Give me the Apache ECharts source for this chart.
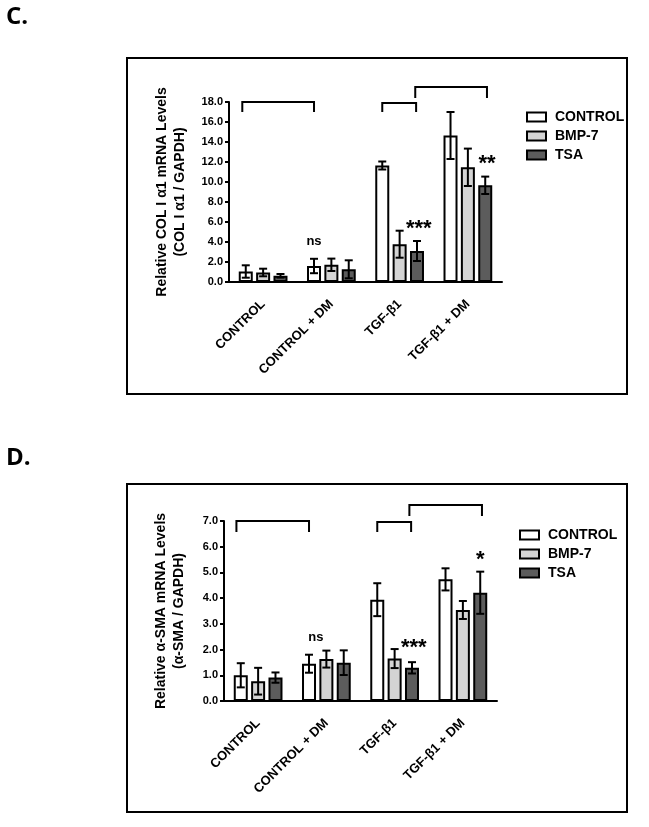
<!DOCTYPE html>
<html>
<head>
<meta charset="utf-8">
<script src="https://cdn.jsdelivr.net/npm/echarts@6/dist/echarts.min.js"></script>
<style>
  html, body { margin: 0; padding: 0; background: #fff; }
  #chart { width: 649px; height: 827px; }
</style>
</head>
<body>
<div id="chart"></div>
<script>
// x groups and legend names
const categories = ['CONTROL', 'CONTROL + DM', 'TGF-\u03b21', 'TGF-\u03b21 + DM'];
const seriesNames = ['CONTROL', 'BMP-7', 'TSA'];
const seriesColors = ['#ffffff', '#d4d4d4', '#5c5c5c'];

// panel C - COL I a1 mRNA, mean and error
const colControl = [1.05, 1.6, 11.65, 14.65];
const colControlErr = [0.62, 0.72, 0.4, 2.35];
const colBmp = [0.95, 1.72, 3.78, 11.47];
const colBmpErr = [0.38, 0.62, 1.35, 1.87];
const colTsa = [0.62, 1.27, 3.1, 9.67];
const colTsaErr = [0.18, 0.9, 1.0, 0.87];
const colTicks = [0, 2, 4, 6, 8, 10, 12, 14, 16, 18];

// panel D - a-SMA mRNA, mean and error
const smaControl = [1.0, 1.45, 3.94, 4.73];
const smaControlErr = [0.47, 0.35, 0.64, 0.43];
const smaBmp = [0.77, 1.63, 1.65, 3.54];
const smaBmpErr = [0.52, 0.33, 0.37, 0.35];
const smaTsa = [0.91, 1.49, 1.29, 4.21];
const smaTsaErr = [0.2, 0.48, 0.22, 0.82];
const smaTicks = [0, 1, 2, 3, 4, 5, 6, 7];

// brackets: [fromGroup, fromBarSlot, toGroup, toBarSlot, topValue, legEndValue]
const colBrackets = [[0, -0.2, 1, 0, 18.0, 17.0], [2, 0, 2, 1.95, 17.9, 17.0], [2, 1.9, 3, 2.1, 19.5, 18.4]];
const smaBrackets = [[0, -0.25, 1, 0, 7.0, 6.57], [2, 0, 2, 1.95, 6.96, 6.57], [2, 1.85, 3, 2.1, 7.62, 7.19]];

// significance marks: [group, barSlot, value]
const colSig = [[1, 0, 4.1], [2, 2.1, 5.3], [3, 2.1, 11.8]];
const colSigText = ['ns', '***', '**'];
const smaSig = [[1, 0.4, 2.49], [2, 2.1, 2.06], [3, 2.0, 5.5]];
const smaSigText = ['ns', '***', '*'];

const FONT = '"Liberation Sans", Arial, sans-serif';
const BAR_W = 14;
const BAR_GAP = 0.24;
const STEP = BAR_W * (1 + BAR_GAP);

function slotX(api, group, slot) {
  return api.coord([group, 0])[0] + (slot - 1) * STEP;
}

function buildPanel(idx, means, errs, brackets, sig, sigText) {
  const out = [];
  means.forEach((m, s) => {
    out.push({
      name: seriesNames[s],
      type: 'bar',
      xAxisIndex: idx,
      yAxisIndex: idx,
      barWidth: BAR_W,
      barGap: (BAR_GAP * 100) + '%',
      itemStyle: { color: seriesColors[s], borderColor: '#000', borderWidth: 2 },
      data: m,
      z: 2
    });
  });

  // error bars
  const errData = [];
  means.forEach((m, s) => {
    m.forEach((v, i) => errData.push([i, s, v - errs[s][i], v + errs[s][i]]));
  });
  out.push({
    type: 'custom',
    xAxisIndex: idx,
    yAxisIndex: idx,
    z: 5,
    silent: true,
    data: errData,
    renderItem: (params, api) => {
      const x = slotX(api, api.value(0), api.value(1));
      const lo = api.coord([api.value(0), api.value(2)])[1];
      const hi = api.coord([api.value(0), api.value(3)])[1];
      const st = { stroke: '#000', lineWidth: 2 };
      return {
        type: 'group',
        children: [
          { type: 'line', shape: { x1: x, y1: lo, x2: x, y2: hi }, style: st },
          { type: 'line', shape: { x1: x - 4, y1: hi, x2: x + 4, y2: hi }, style: st },
          { type: 'line', shape: { x1: x - 4, y1: lo, x2: x + 4, y2: lo }, style: st }
        ]
      };
    }
  });

  // comparison brackets
  out.push({
    type: 'custom',
    xAxisIndex: idx,
    yAxisIndex: idx,
    z: 5,
    silent: true,
    clip: false,
    data: brackets,
    renderItem: (params, api) => {
      const x1 = slotX(api, api.value(0), api.value(1));
      const x2 = slotX(api, api.value(2), api.value(3));
      const yt = api.coord([0, api.value(4)])[1];
      const yb = api.coord([0, api.value(5)])[1];
      return {
        type: 'polyline',
        shape: { points: [[x1, yb], [x1, yt], [x2, yt], [x2, yb]] },
        style: { stroke: '#000', fill: null, lineWidth: 2 }
      };
    }
  });

  // ns / asterisks
  out.push({
    type: 'custom',
    xAxisIndex: idx,
    yAxisIndex: idx,
    z: 5,
    silent: true,
    clip: false,
    data: sig,
    renderItem: (params, api) => {
      const txt = sigText[params.dataIndex];
      const star = txt.indexOf('*') >= 0;
      return {
        type: 'text',
        x: slotX(api, api.value(0), api.value(1)),
        y: api.coord([0, api.value(2)])[1],
        style: {
          text: txt,
          fill: '#000',
          font: 'bold ' + (star ? 22 : 13) + 'px ' + FONT,
          align: 'center',
          verticalAlign: 'middle'
        }
      };
    }
  });
  return out;
}

function xAxisFor(idx) {
  return {
    type: 'category',
    gridIndex: idx,
    data: categories,
    axisLine: { lineStyle: { color: '#000', width: 2 } },
    axisTick: { alignWithLabel: true, length: 5, lineStyle: { color: '#000', width: 2 } },
    axisLabel: { rotate: 45, margin: 20, color: '#000', fontWeight: 'bold', fontSize: 13, fontFamily: FONT, interval: 0 },
    splitLine: { show: false }
  };
}

function yAxisFor(idx, ticks, name, gap) {
  return {
    type: 'value',
    gridIndex: idx,
    min: ticks[0],
    max: ticks[ticks.length - 1],
    interval: ticks[1] - ticks[0],
    name: name,
    nameLocation: 'middle',
    nameGap: gap,
    nameTextStyle: { color: '#000', fontWeight: 'bold', fontSize: 14, fontFamily: FONT, lineHeight: 18 },
    axisLine: { show: true, lineStyle: { color: '#000', width: 2 } },
    axisTick: { show: true, length: 4, lineStyle: { color: '#000', width: 2 } },
    axisLabel: { color: '#000', fontWeight: 'bold', fontSize: 11, fontFamily: FONT, margin: 6, formatter: v => v.toFixed(1) },
    splitLine: { show: false }
  };
}

function legendFor(left, top) {
  return {
    orient: 'vertical',
    left: left,
    top: top,
    data: seriesNames,
    icon: 'rect',
    itemWidth: 19,
    itemHeight: 9,
    itemGap: 5,
    selectedMode: false,
    textStyle: { color: '#000', fontWeight: 'bold', fontSize: 14, fontFamily: FONT, padding: [0, 0, 0, 4] }
  };
}

const chart = echarts.init(document.getElementById('chart'), null, { renderer: 'canvas' });

const option = {
  backgroundColor: '#fff',
  animation: false,
  grid: [
    { left: 229, top: 102, width: 273, height: 180 },
    { left: 224, top: 521, width: 273, height: 180 }
  ],
  xAxis: [xAxisFor(0), xAxisFor(1)],
  yAxis: [
    yAxisFor(0, colTicks, 'Relative COL I \u03b11 mRNA Levels\n(COL I \u03b11 / GAPDH)', 40),
    yAxisFor(1, smaTicks, 'Relative \u03b1-SMA mRNA Levels\n(\u03b1-SMA / GAPDH)', 36)
  ],
  legend: [legendFor(521, 105), legendFor(514, 523)],
  graphic: [
    { type: 'rect', shape: { x: 127, y: 58, width: 500, height: 336 }, style: { fill: null, stroke: '#000', lineWidth: 2 } },
    { type: 'rect', shape: { x: 127, y: 484, width: 500, height: 328 }, style: { fill: null, stroke: '#000', lineWidth: 2 } },
    { type: 'text', x: 6, y: 17, style: { text: 'C.', font: 'bold 24px "Open Sans", sans-serif', fill: '#000', verticalAlign: 'middle' } },
    { type: 'text', x: 6, y: 458, style: { text: 'D.', font: 'bold 24px "Open Sans", sans-serif', fill: '#000', verticalAlign: 'middle' } }
  ],
  series: [
    ...buildPanel(0, [colControl, colBmp, colTsa], [colControlErr, colBmpErr, colTsaErr], colBrackets, colSig, colSigText),
    ...buildPanel(1, [smaControl, smaBmp, smaTsa], [smaControlErr, smaBmpErr, smaTsaErr], smaBrackets, smaSig, smaSigText)
  ]
};

chart.setOption(option);
window.addEventListener('resize', () => chart.resize());
</script>
</body>
</html>
